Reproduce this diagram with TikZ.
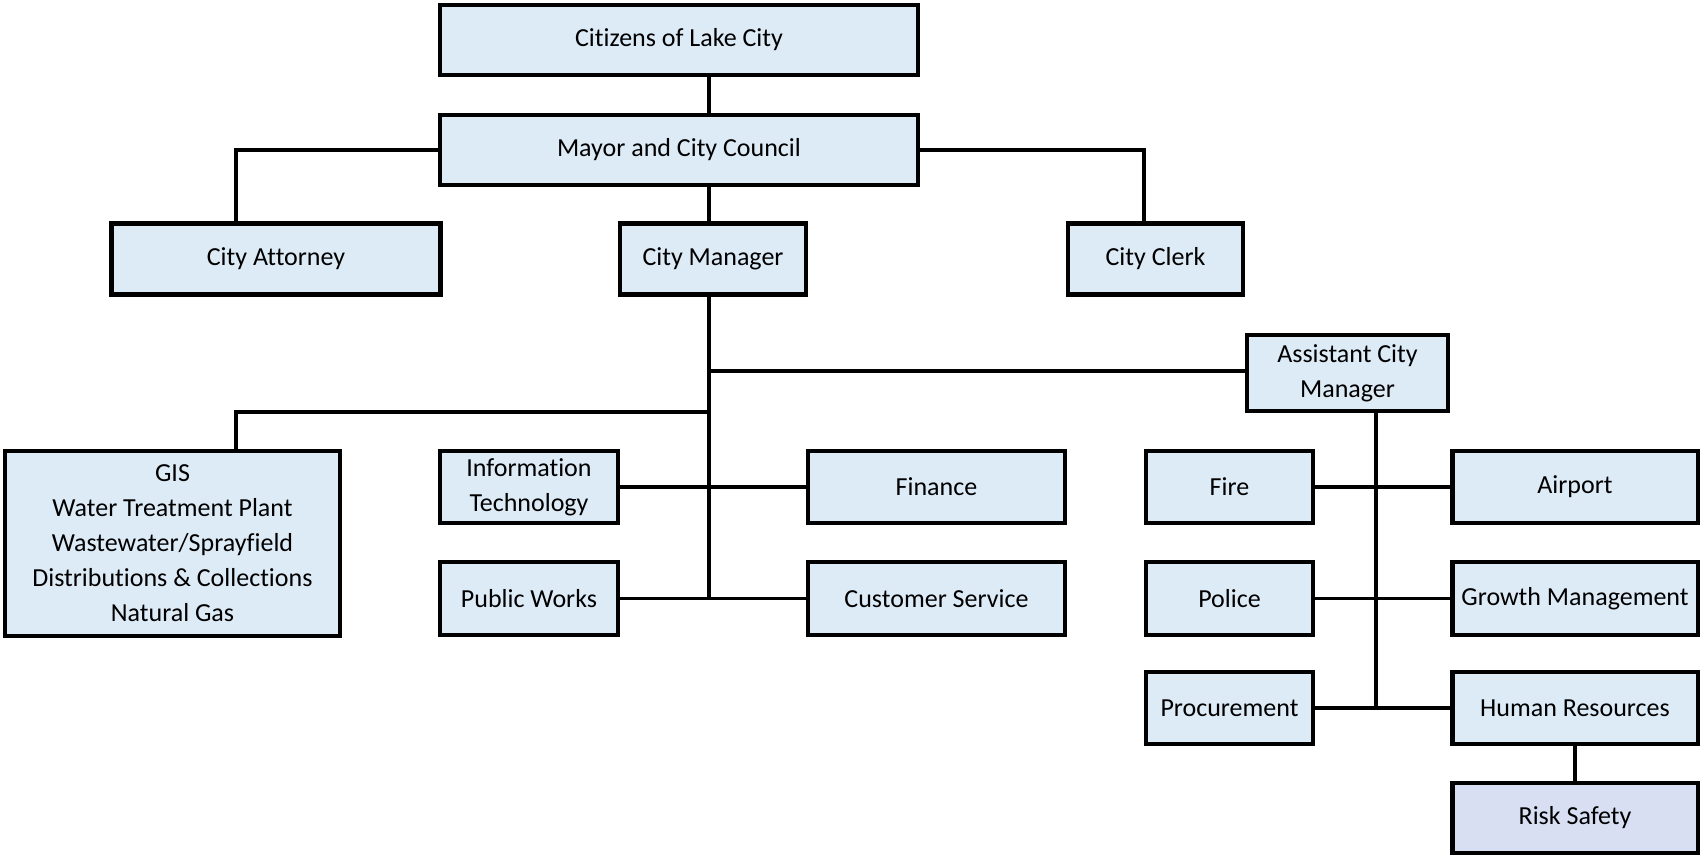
\documentclass[tikz,border=0pt]{standalone}
\usepackage{fontspec}
\setmainfont{Carlito}[Ligatures=NoCommon]
\definecolor{boxfill}{HTML}{DDEBF7}
\definecolor{riskfill}{HTML}{D9DFF2}
\begin{document}
\begin{tikzpicture}[x=1pt,y=-1pt,
  box/.style={draw=black, line width=4.5pt, fill=boxfill, inner sep=0pt, align=center,
    font=\fontsize{26}{35}\selectfont, text=black},
  conn/.style={draw=black, line width=3.5pt}]
\useasboundingbox (0,0) rectangle (1701,857);
% nodes
\node[box, minimum width=478, minimum height=70] (citizens) at (679,40) {Citizens of Lake City};
\node[box, minimum width=478, minimum height=70] (mayor) at (679,150) {Mayor and City Council};
\node[box, minimum width=329, minimum height=71] (attorney) at (276,259) {City Attorney};
\node[box, minimum width=186, minimum height=71] (manager) at (713,259) {City Manager};
\node[box, minimum width=175, minimum height=71] (clerk) at (1155.5,259) {City Clerk};
\node[box, minimum width=201, minimum height=76] (acm) at (1347.5,373) {Assistant City\\Manager};
\node[box, minimum width=335, minimum height=185] (gis) at (172.5,543.5) {GIS\\Water Treatment Plant\\Wastewater/Sprayfield\\Distributions \& Collections\\Natural Gas};
\node[box, minimum width=178, minimum height=72] (it) at (529,487) {Information\\Technology};
\node[box, minimum width=257, minimum height=72] (finance) at (936.5,487) {Finance};
\node[box, minimum width=178, minimum height=73] (pw) at (529,598.5) {Public Works};
\node[box, minimum width=257, minimum height=73] (cs) at (936.5,598.5) {Customer Service};
\node[box, minimum width=167, minimum height=72] (fire) at (1229.5,487) {Fire};
\node[box, minimum width=245.5, minimum height=72] (airport) at (1575,487) {Airport};
\node[box, minimum width=167, minimum height=73] (police) at (1229.5,598.5) {Police};
\node[box, minimum width=245.5, minimum height=73] (growth) at (1575,598.5) {Growth Management};
\node[box, minimum width=167, minimum height=72] (proc) at (1229.5,708) {Procurement};
\node[box, minimum width=245.5, minimum height=72] (hr) at (1575,708) {Human Resources};
\node[box, fill=riskfill, minimum width=245.5, minimum height=70] (risk) at (1575,818) {Risk Safety};
% helper coordinates
\coordinate (spine) at (709,0);
\coordinate (attx) at (236,0);
\coordinate (clerkx) at (1144,0);
\coordinate (gisrow) at (0,412);
\coordinate (acmx) at (1376,0);
\coordinate (acmrow) at (0,371);
% connectors
\draw[conn] (citizens.south -| spine) -- (mayor.north -| spine);
\draw[conn] (mayor.south -| spine) -- (manager.north -| spine);
\draw[conn] (mayor.west) -| (attorney.north -| attx);
\draw[conn] (mayor.east) -| (clerk.north -| clerkx);
\draw[conn] (manager.south -| spine) -- (pw.east -| spine);
\draw[conn] (spine |- acmrow) -- (acm.west |- acmrow);
\draw[conn] (spine |- gisrow) -| (gis.north -| attx);
\draw[conn] (it.east) -- (finance.west);
\draw[conn] (pw.east) -- (cs.west);
\draw[conn] (acm.south -| acmx) -- (proc.east -| acmx);
\draw[conn] (fire.east) -- (airport.west);
\draw[conn] (police.east) -- (growth.west);
\draw[conn] (proc.east) -- (hr.west);
\draw[conn] (hr.south) -- (risk.north);
\end{tikzpicture}
\end{document}
